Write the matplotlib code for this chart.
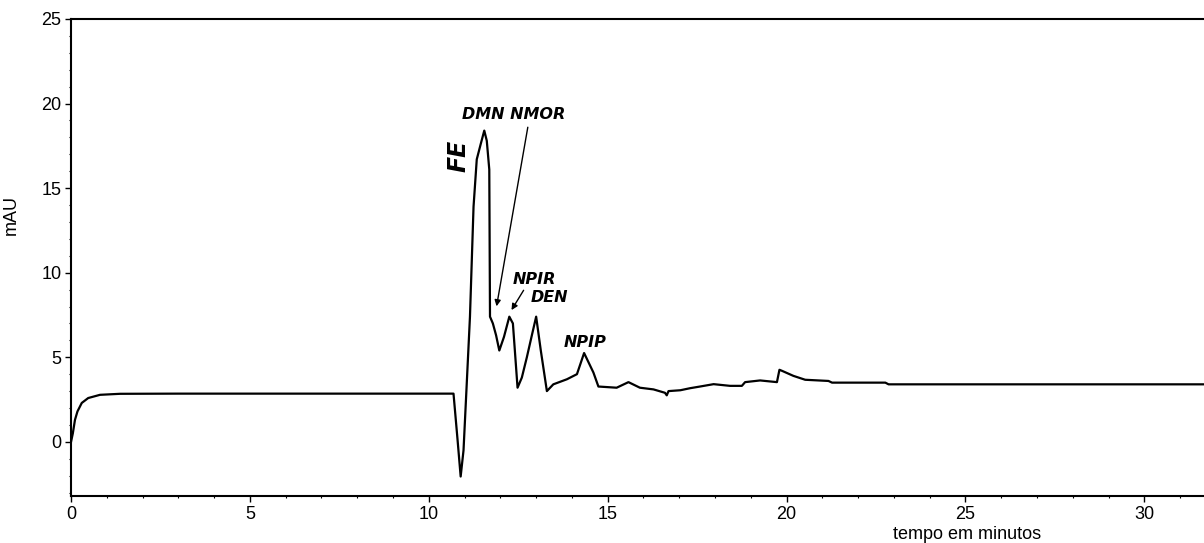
import numpy as np
import matplotlib.pyplot as plt

plt.rcParams['font.family'] = ['Liberation Sans', 'DejaVu Sans']

# chromatogram trace (min, mAU)
tempo = [0.0, 0.05, 0.11, 0.18, 0.30, 0.48, 0.81, 1.37, 3.0, 6.0, 10.69,
         10.80, 10.89, 10.97, 11.05, 11.15, 11.25, 11.34, 11.45, 11.55,
         11.62, 11.69, 11.71, 11.79, 11.88, 11.97, 12.10, 12.25, 12.35,
         12.48, 12.60, 12.74, 12.88, 13.00, 13.13, 13.30, 13.48, 13.86,
         14.14, 14.34, 14.60, 14.74, 15.25, 15.58, 15.90, 16.28, 16.60,
         16.65, 16.70, 17.03, 17.30, 17.58, 17.96, 18.42, 18.75, 18.84,
         19.26, 19.73, 19.80, 19.87, 20.19, 20.52, 21.17, 21.27, 22.76,
         22.85, 31.70]
mau = [0.0, 0.5, 1.3, 1.8, 2.3, 2.59, 2.78, 2.84, 2.85, 2.85, 2.85,
       0.2, -2.05, -0.5, 3.0, 7.4, 13.9, 16.7, 17.6, 18.4,
       17.8, 16.1, 7.4, 7.0, 6.3, 5.4, 6.2, 7.4, 7.0,
       3.2, 3.8, 5.0, 6.3, 7.4, 5.4, 3.0, 3.4, 3.7,
       4.0, 5.25, 4.1, 3.27, 3.2, 3.53, 3.2, 3.1, 2.9,
       2.75, 3.0, 3.05, 3.17, 3.27, 3.41, 3.31, 3.31, 3.53,
       3.63, 3.53, 4.26, 4.2, 3.9, 3.67, 3.6, 3.5, 3.5,
       3.4, 3.4]

# peak labels: text, x, y
picos = ['NPIR', 'DEN', 'NPIP']
picos_x = [12.94, 13.36, 14.37]
picos_y = [9.6, 8.55, 5.9]

yticks = [0, 5, 10, 15, 20, 25]
xticks = [0, 5, 10, 15, 20, 25, 30]

fig = plt.figure(figsize=(12.04, 5.43), dpi=100)
ax = fig.add_axes([0.059, 0.0866, 0.942, 0.8785])

ax.plot(tempo, mau, color='black', lw=1.6)

ax.set_xlim(0, 31.7)
ax.set_ylim(-3.2, 25)
ax.set_xticks(xticks)
ax.set_yticks(yticks)
ax.set_xticks(np.arange(0, 32, 1), minor=True)
ax.set_yticks(np.arange(-3, 26, 1), minor=True)
ax.tick_params(which='major', length=4, width=1, direction='out',
               labelsize=13, pad=3)
ax.tick_params(which='minor', length=1.5, width=0.8, direction='out')
ax.spines['right'].set_visible(False)
for s in ['left', 'bottom', 'top']:
    ax.spines[s].set_linewidth(1.5)

ax.set_ylabel('mAU', fontsize=13)
ax.yaxis.set_label_coords(-0.045, 0.59)
ax.set_xlabel('tempo em minutos', fontsize=13)
ax.xaxis.set_label_coords(0.79, -0.063)

lab = dict(fontsize=11.5, fontweight='bold', fontstyle='italic',
           family='DejaVu Sans', ha='center', va='center')
ax.text(12.36, 19.35, 'DMN NMOR', **lab)
ax.text(10.82, 16.9, 'FE', rotation=90, fontsize=17, fontweight='bold',
        fontstyle='italic', family='DejaVu Sans', ha='center', va='center')
for t, x, y in zip(picos, picos_x, picos_y):
    ax.text(x, y, t, **lab)

arr = dict(arrowstyle='-|>', color='black', lw=1.0, mutation_scale=9)
ax.annotate('', xy=(11.88, 7.85), xytext=(12.78, 18.76), arrowprops=arr)
ax.annotate('', xy=(12.27, 7.65), xytext=(12.69, 9.1), arrowprops=arr)

fig.savefig('out.png', dpi=100)
